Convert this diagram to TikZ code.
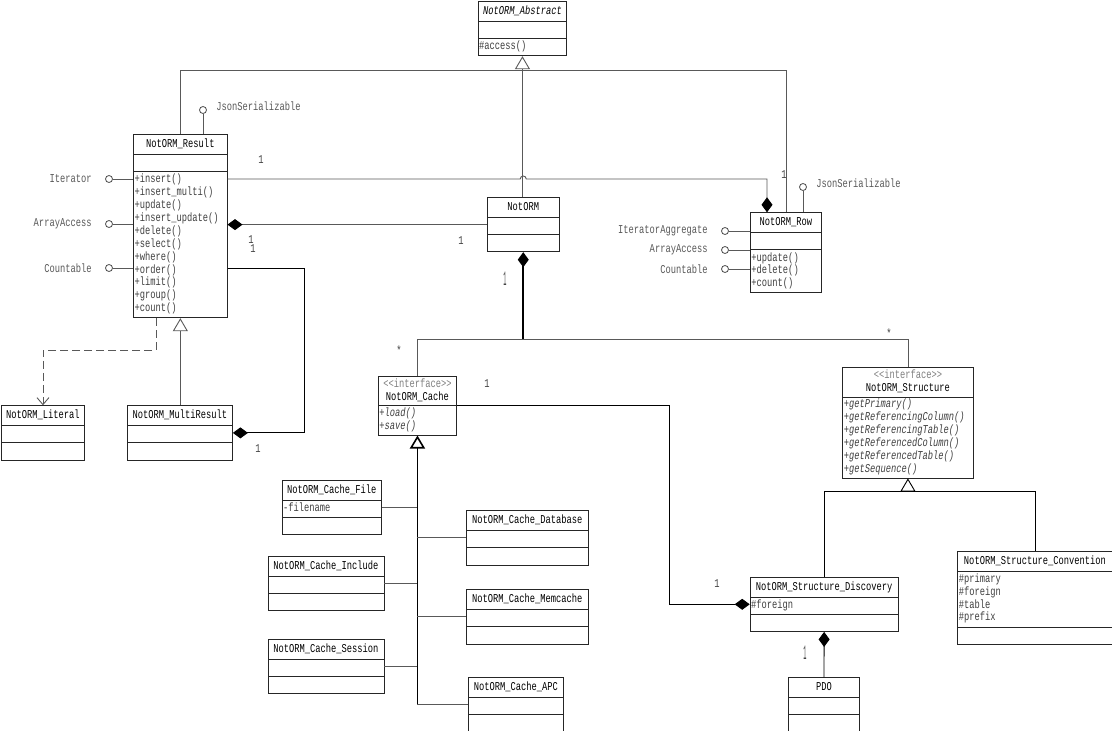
\documentclass[tikz,border=0pt]{standalone}
\usepackage{fontspec}
\usetikzlibrary{calc,positioning,shapes.multipart,arrows.meta}
\newfontfamily\umlfont{Liberation Mono}[FakeStretch=0.73]

\newcommand\umltitle[1]{\hbox to\hsize{\hfil\color{black}\rule[-4.8pt]{0pt}{15.6pt}#1\hfil}}
\newcommand\umlstereo[1]{\hbox to\hsize{\hfil\strut\color{black!50}<\kern0pt<interface>\kern0pt>\hfil}\\
  \hbox to\hsize{\hfil\strut\color{black}#1\hfil}}

\tikzset{
  umlclass/.style={draw=black!85, line width=0.9pt, rectangle split, rectangle split parts=3,
    anchor=north west, inner xsep=1pt, inner ysep=1.7pt, align=left, text=black!75,
    font=\umlfont\fontsize{12}{12.9}\selectfont},
  umliface/.style={umlclass, rectangle split parts=2, inner ysep=1.3pt},
  lolli/.style={circle, draw=black!70, fill=white, line width=0.8pt, inner sep=0pt,
    minimum size=7pt},
  mult/.style={font=\umlfont\fontsize{12}{12.9}\selectfont, text=black!75, inner sep=0pt},
  conn/.style={draw=black!65, line width=0.9pt},
  inherit/.style={conn, -{Triangle[open, length=13pt, width=15pt]}},
  compose/.style={conn, -{Diamond[black, length=15pt, width=11pt]}},
  depend/.style={conn, dash pattern=on 8pt off 4pt, -{Straight Barb[length=7pt, width=12pt]}},
}

\begin{document}
\begin{tikzpicture}[x=1pt, y=-1pt, label distance=10pt,
  every label/.style={font=\umlfont\fontsize{12}{12.9}\selectfont, text=black!65}]
  \path[use as bounding box, fill=white] (0,0) rectangle (1112,731);

  % classes
  \node[umlclass, text width=86.8pt] (abstract) at (477.6,1) {\umltitle{\itshape NotORM\_Abstract}
    \nodepart{two}\strut
    \nodepart{three}\strut\#access()};
  \node[umlclass, text width=91.4pt] (result) at (133.2,134) {\umltitle{NotORM\_Result}
    \nodepart{two}\strut
    \nodepart{three}\strut+insert()\\+insert\_multi()\\+update()\\+insert\_update()\\+delete()\\+select()\\+where()\\+order()\\+limit()\\+group()\\+count()\strut};
  \node[umlclass, text width=70pt] (notorm) at (486.8,197) {\umltitle{NotORM}
    \nodepart{two}\strut
    \nodepart{three}\strut};
  \node[umlclass, text width=69pt] (row) at (750,212.3) {\umltitle{NotORM\_Row}
    \nodepart{two}\strut
    \nodepart{three}\strut+update()\\+delete()\\+count()\strut};
  \node[umlclass, text width=81pt] (literal) at (1,405.3) {\umltitle{NotORM\_Literal}
    \nodepart{two}\strut
    \nodepart{three}\strut};
  \node[umlclass, text width=103pt] (multi) at (127,405.3) {\umltitle{NotORM\_MultiResult}
    \nodepart{two}\strut
    \nodepart{three}\strut};
  \node[umliface, text width=76pt] (cache) at (378,376) {\umlstereo{NotORM\_Cache}
    \nodepart{two}\itshape\strut+load()\\+save()\strut};
  \node[umlclass, text width=97.3pt] (cfile) at (281.7,480) {\umltitle{NotORM\_Cache\_File}
    \nodepart{two}\strut-filename
    \nodepart{three}\strut};
  \node[umlclass, text width=114pt] (cinclude) at (267.5,555.7) {\umltitle{NotORM\_Cache\_Include}
    \nodepart{two}\strut
    \nodepart{three}\strut};
  \node[umlclass, text width=114pt] (csession) at (267.5,638.7) {\umltitle{NotORM\_Cache\_Session}
    \nodepart{two}\strut
    \nodepart{three}\strut};
  \node[umlclass, text width=119.5pt] (cdb) at (466,510.3) {\umltitle{NotORM\_Cache\_Database}
    \nodepart{two}\strut
    \nodepart{three}\strut};
  \node[umlclass, text width=119.5pt] (cmem) at (466,589.3) {\umltitle{NotORM\_Cache\_Memcache}
    \nodepart{two}\strut
    \nodepart{three}\strut};
  \node[umlclass, text width=92.2pt] (capc) at (468.4,676.7) {\umltitle{NotORM\_Cache\_APC}
    \nodepart{two}\strut
    \nodepart{three}\strut};
  \node[umliface, text width=128.4pt] (structure) at (842.3,367.3) {\umlstereo{NotORM\_Structure}
    \nodepart{two}\itshape\strut+getPrimary()\\+getReferencingColumn()\\+getReferencingTable()\\+getReferencedColumn()\\+getReferencedTable()\\+getSequence()\strut};
  \node[umlclass, text width=146pt] (discovery) at (749.7,576.7) {\umltitle{NotORM\_Structure\_Discovery}
    \nodepart{two}\strut\#foreign
    \nodepart{three}\strut};
  \node[umlclass, text width=152.4pt] (convention) at (957.3,550.7) {\umltitle{NotORM\_Structure\_Convention}
    \nodepart{two}\strut\#primary\\\#foreign\\\#table\\\#prefix\strut
    \nodepart{three}\strut};
  \node[umlclass, text width=69.6pt] (pdo) at (787.7,677.3) {\umltitle{PDO}
    \nodepart{two}\strut
    \nodepart{three}\strut};

  % interfaces
  \node[lolli, label=left:Iterator] (iter) at (109,179) {};
  \node[lolli, label=left:ArrayAccess] (arr) at (109,224) {};
  \node[lolli, label=left:Countable] (cnt) at (109,268) {};
  \node[lolli, label={[yshift=4pt, label distance=6pt]right:JsonSerializable}] (json) at (203,110) {};
  \node[lolli, label=left:IteratorAggregate] (riter) at (725,231) {};
  \node[lolli, label=left:ArrayAccess] (rarr) at (725,250) {};
  \node[lolli, label=left:Countable] (rcnt) at (725,269) {};
  \node[lolli, label={[yshift=4pt, label distance=6pt]right:JsonSerializable}] (rjson) at (803,187) {};
  \foreach \i in {iter,arr,cnt} \draw[conn] (\i) -- (\i -| result.west);
  \foreach \i in {riter,rarr,rcnt} \draw[conn] (\i) -- (\i -| row.west);
  \draw[conn] (json) -- (json |- result.north);
  \draw[conn] (rjson) -- (rjson |- row.north);

  % relations
  \draw[inherit] (abstract.south |- notorm.north) -- (abstract.south);
  \draw[conn] (result.north) |- ($(abstract.south)+(0,14)$) -| (row.north);
  \coordinate (hop) at (notorm.north |- iter);
  \draw[compose] (iter -| result.east) -- ([xshift=-3pt]hop) arc[start angle=180, end angle=0, radius=3pt]
    -| ($(row.north west)+(17,0)$);
  \draw[compose] (notorm.west) -- (notorm.west -| result.east);
  \draw[inherit] (result.south |- multi.north) -- (result.south);
  \draw[depend] ($(result.south west)+(23,0)$) -- ++(0,32) -| (literal.north);
  \draw[compose, draw=black] (cnt -| result.east) -- ++(77,0) |- (multi.east);

  \coordinate (bus) at ($(notorm.south)+(0,87)$);
  \draw[compose, draw=black, line width=1.6pt] (bus) -- (notorm.south);
  \draw[conn] (cache.north) |- (bus) -| (structure.north);
  \draw[compose, draw=black] (cache.text split east) -| ($(discovery.west)+(-80,0)$) -- (discovery.west);

  \draw[inherit, draw=black, line width=1.6pt] (capc.west -| cache.south) -- (cache.south);
  \foreach \c in {cfile,cinclude,csession} \draw[conn] (\c.east) -- (\c.east -| cache.south);
  \foreach \c in {cdb,cmem,capc} \draw[conn] (\c.west) -- (\c.west -| cache.south);

  \draw[inherit, draw=black] ($(structure.south)+(0,13)$) -- (structure.south);
  \draw[conn, draw=black] (discovery.north) |- ($(structure.south)+(0,13)$) -| (convention.north);
  \draw[compose, draw=black] (pdo.north) -- (discovery.south);

  % multiplicities
  \node[mult] (m1) at (261,160) {1};
  \node[mult] (m2) at (784,175) {1};
  \node[mult] (m3) at (251,240) {1};
  \node[mult] (m4) at (253,249) {1};
  \node[mult] (m5) at (461,241) {1};
  \node[mult] (m6) at (258,449) {1};
  \node[mult] (m7) at (399,350) {*};
  \node[mult] (m8) at (889,333) {*};
  \node[mult] (m9) at (505,279) {\scalebox{0.6}[1.7]{1}};
  \node[mult] (m10) at (487,384) {1};
  \node[mult] (m11) at (717,584) {1};
  \node[mult] (m12) at (805,653) {\scalebox{0.6}[1.7]{1}};
\end{tikzpicture}
\end{document}
